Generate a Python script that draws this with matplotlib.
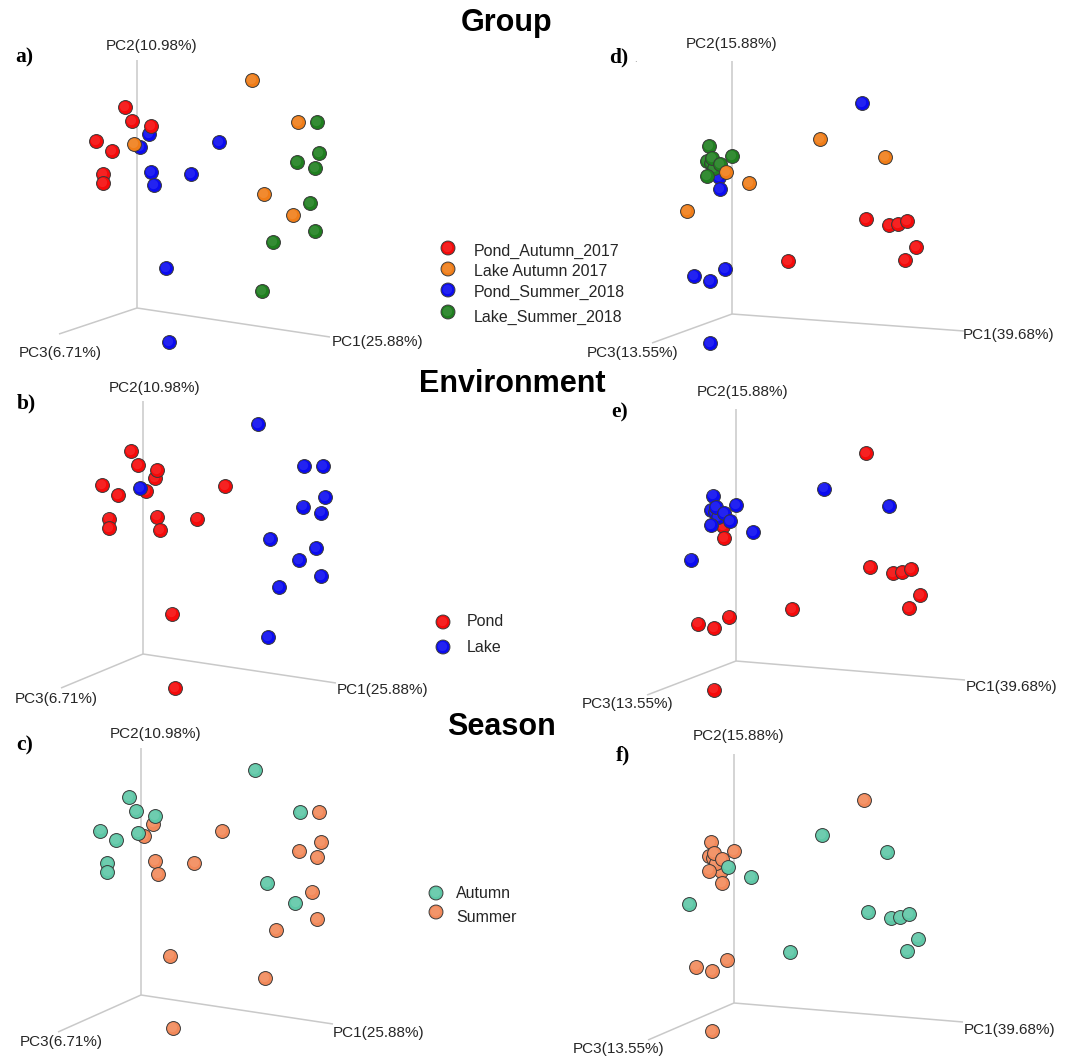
import matplotlib
matplotlib.use("Agg")
import matplotlib.pyplot as plt
import numpy as np

# ---------------------------------------------------------------------------
# Sample scores projected onto the 3-D PCoA view (screen units, origin at the
# axes corner).  Left column: 10.98/25.88/6.71 % ordination, right column:
# 15.88/39.68/13.55 % ordination.  Samples are listed in drawing order.
# ---------------------------------------------------------------------------
groups = ["Pond_Autumn_2017", "Lake_Autumn_2017", "Pond_Summer_2018", "Lake_Summer_2018"]

left_group = (["Pond_Summer_2018"] * 8 + ["Pond_Autumn_2017"] * 7
              + ["Lake_Summer_2018"] * 8 + ["Lake_Autumn_2017"] * 5)
left_x = [12, 3, 82, 14, 54, 17, 29, 32,
          -12, -5, 14, -41, -25, -34, -34,
          180, 182, 160, 178, 173, 178, 136, 125,
          115, 161, -3, 127, 156]
left_y = [174, 161, 166, 136, 134, 123, 40, -34,
          201, 187, 182, 167, 157, 134, 125,
          186, 155, 146, 140, 105, 77, 66, 17,
          228, 186, 164, 114, 93]

right_group = (["Pond_Summer_2018"] * 8 + ["Lake_Summer_2018"] * 8
               + ["Lake_Autumn_2017"] * 5 + ["Pond_Autumn_2017"] * 7)
right_x = [130, -16, -13, -12, -7, -38, -22, -22,
           -23, 0, -25, -21, -18, -25, -20, -12,
           88, 153, -6, 17, -45,
           134, 157, 166, 175, 184, 173, 56]
right_y = [211, 148, 137, 125, 45, 38, 33, -29,
           168, 158, 153, 151, 146, 138, 156, 150,
           175, 157, 142, 131, 103,
           95, 89, 90, 93, 67, 54, 53]

environments = ["Pond", "Lake"]
seasons = ["Autumn", "Summer"]

left_axis_titles = ["PC1(25.88%)", "PC2(10.98%)", "PC3(6.71%)"]
right_axis_titles = ["PC1(39.68%)", "PC2(15.88%)", "PC3(13.55%)"]

group_colors = {"Pond_Autumn_2017": "#f50a0a", "Lake_Autumn_2017": "#f07d18",
                "Pond_Summer_2018": "#0b0bf0", "Lake_Summer_2018": "#1f7f1f"}
env_colors = {"Pond": "#f50a0a", "Lake": "#0b0bf0"}
season_colors = {"Autumn": "#5ec7a6", "Summer": "#f2895a"}

W, H = 1073, 1059
fig = plt.figure(figsize=(W / 100, H / 100), dpi=100)

AX_COL = "#c9c9c9"
TXT_COL = "#262626"
LAB_FONT = "Liberation Sans"
MS = 100
EDGE = "#3a3a3a"


def group_to(kind, g):
    env, season = g.split("_")[0], g.split("_")[1]
    return env if kind == "env" else season


def color_of(kind, g):
    if kind == "group":
        return group_colors[g]
    if kind == "env":
        return env_colors[group_to("env", g)]
    return season_colors[group_to("season", g)]


def spheres(ax, x, y, cols):
    """Scatter drawn as small shaded balls: solid disc plus a soft highlight."""
    x = np.asarray(x, float)
    y = np.asarray(y, float)
    for i in range(len(x)):
        ax.scatter(x[i], y[i], s=MS, c=[cols[i]], edgecolors=EDGE,
                   linewidths=0.7, zorder=3 + i * 0.01)
        ax.scatter(x[i] - 0.8, y[i] + 1.2, s=MS * 0.45, c="white", alpha=0.1,
                   linewidths=0, zorder=3 + i * 0.01 + 0.005)


# panel layout: origin (px), view scale, axis end vectors (pc1, pc2, pc3),
# label centres (pc1, pc2, pc3), letter position
panels = [
    dict(side="L", kind="group", origin=(137, 308), scale=(1.0, 1.0),
         ends=[(193, -29), (0, 248), (-78, -26)],
         labs=[(378, 342), (152, 46), (60, 353)], letter=("a)", (24, 57))),
    dict(side="L", kind="env", origin=(143, 654), scale=(1.0, 1.01),
         ends=[(193, -29), (0, 253), (-82, -34)],
         labs=[(383, 690), (155, 388), (56, 699)], letter=("b)", (26, 403))),
    dict(side="L", kind="season", origin=(141, 995), scale=(0.99, 0.985),
         ends=[(192, -29), (0, 247), (-83, -37)],
         labs=[(379, 1033), (156, 734), (61, 1042)], letter=("c)", (25, 745))),
    dict(side="R", kind="group", origin=(732, 314), scale=(1.0, 1.0),
         ends=[(232, -17), (0, 253), (-80, -29)],
         labs=[(1009, 335), (732, 44), (633, 353)], letter=("d)", (619, 57))),
    dict(side="R", kind="env", origin=(736, 661), scale=(1.0, 0.985),
         ends=[(229, -19), (0, 252), (-89, -34)],
         labs=[(1012, 687), (743, 392), (628, 704)], letter=("e)", (620, 412))),
    dict(side="R", kind="season", origin=(734, 1003), scale=(1.0, 0.96),
         ends=[(229, -19), (0, 249), (-86, -37)],
         labs=[(1010, 1030), (739, 736), (619, 1049)], letter=("f)", (623, 755))),
]

for p in panels:
    ox, oy = p["origin"]
    ax = fig.add_axes([0, 0, 1, 1])
    ax.set_xlim(-ox, W - ox)
    ax.set_ylim(oy - H, oy)
    ax.axis("off")
    ax.patch.set_alpha(0)
    # 3-D axis lines
    for ex, ey in p["ends"]:
        ax.plot([0, ex], [0, ey], color=AX_COL, lw=1.1, zorder=1,
                solid_capstyle="butt")
    if p["side"] == "L":
        xs, ys, gs = left_x, left_y, left_group
    else:
        xs, ys, gs = right_x, right_y, right_group
    sx, sy = p["scale"]
    cols = [color_of(p["kind"], g) for g in gs]
    spheres(ax, np.array(xs) * sx, np.array(ys) * sy, cols)

# overlay for titles, axis labels and legends (pixel coordinates)
ov = fig.add_axes([0, 0, 1, 1])
ov.set_xlim(0, W)
ov.set_ylim(H, 0)
ov.axis("off")
ov.patch.set_alpha(0)

titles = ["Group", "Environment", "Season"]
title_pos = [(507, 31), (512, 392), (501, 735)]
for t, (tx, ty) in zip(titles, title_pos):
    ov.text(tx, ty, t, fontsize=22, fontweight="bold", family=LAB_FONT,
            ha="center", va="baseline", color="black")

for p in panels:
    names = left_axis_titles if p["side"] == "L" else right_axis_titles
    for name, (lx, ly) in zip(names, p["labs"]):
        ov.text(lx, ly, name, fontsize=11, family=LAB_FONT, color=TXT_COL,
                ha="center", va="center")
    lt, (lx, ly) = p["letter"]
    ov.text(lx, ly, lt, fontsize=15.5, fontweight="bold", family="Liberation Serif",
            ha="center", va="center", color="black")
ov.text(635, 59, ".", fontsize=6, color="#777777", ha="center", va="center")

# legends
group_legend_labels = ["Pond_Autumn_2017", "Lake Autumn 2017",
                       "Pond_Summer_2018", "Lake_Summer_2018"]
legends = [
    (group_legend_labels, [group_colors[g] for g in groups],
     448, 474, [248, 269, 290, 312], [251, 271, 292, 317]),
    (environments, [env_colors[e] for e in environments],
     443, 467, [622, 647], [622, 648]),
    (seasons, [season_colors[s] for s in seasons],
     436, 456, [893, 912], [893, 917]),
]
for labels, cols, mx, tx, mys, tys in legends:
    ov.scatter([mx] * len(mys), mys, s=MS, c=cols, edgecolors=EDGE,
               linewidths=0.7, zorder=3)
    ov.scatter([mx - 0.8] * len(mys), [m - 1.2 for m in mys], s=MS * 0.45,
               c="white", alpha=0.1, linewidths=0, zorder=4)
    for lab, ty in zip(labels, tys):
        ov.text(tx, ty, lab, fontsize=11.5, family=LAB_FONT, color=TXT_COL,
                ha="left", va="center")

fig.savefig("out.png", dpi=100)
